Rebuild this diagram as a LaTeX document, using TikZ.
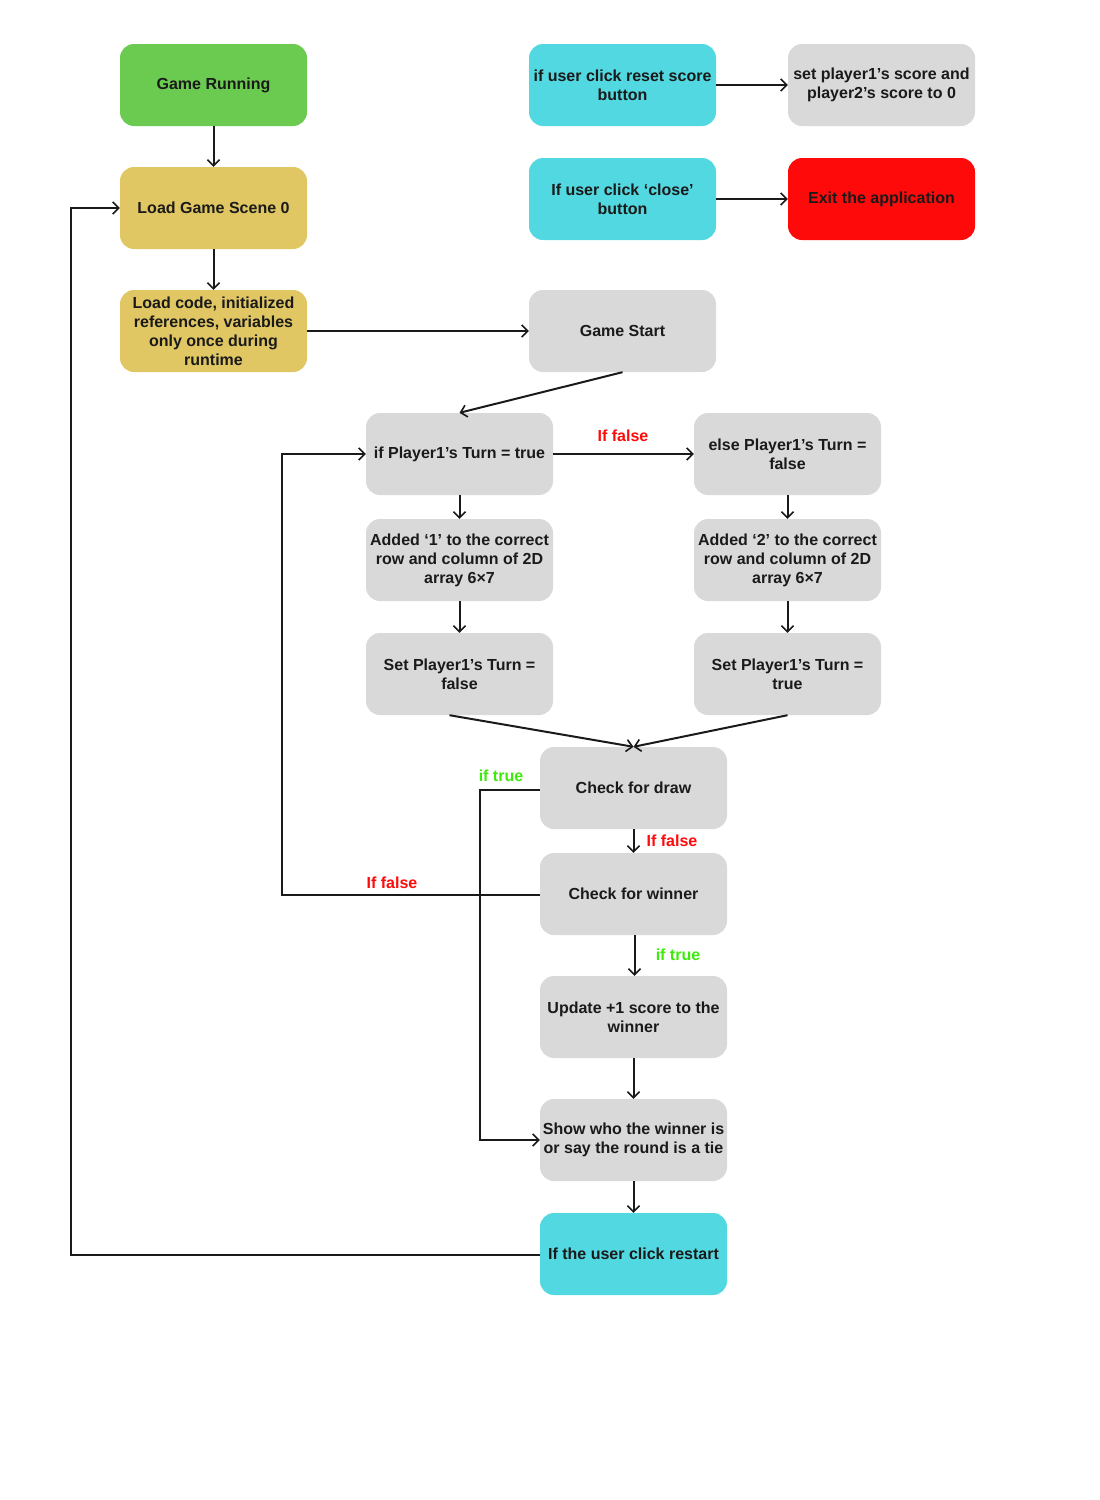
\documentclass[tikz,border=0pt]{standalone}
\usepackage{fontspec}
\setmainfont{Liberation Sans}
\usetikzlibrary{arrows.meta}
\definecolor{cgreen}{HTML}{6BCB50}
\definecolor{cyel}{HTML}{E0C763}
\definecolor{ccyan}{HTML}{52D8E0}
\definecolor{cgray}{HTML}{D9D9D9}
\definecolor{cred}{HTML}{FF0A0A}
\definecolor{ctext}{HTML}{1A1A1A}
\definecolor{lblred}{HTML}{FF0A0A}
\definecolor{lblgreen}{HTML}{3CEB0A}
\begin{document}
\begin{tikzpicture}[x=1pt,y=-1pt,
 box/.style={rounded corners=14pt, minimum width=187pt, minimum height=82pt, inner sep=0pt, align=center, text=ctext, font=\fontsize{16}{19}\selectfont\bfseries},
 arr/.style={-{Straight Barb[length=6pt,width=12pt,line width=1.6pt]}, line width=2pt, draw=ctext},
 thinarr/.style={-{Straight Barb[length=6pt,width=12pt,line width=1.6pt]}, line width=1.2pt, draw=ctext},
 lblr/.style={font=\fontsize{16}{19}\selectfont\bfseries, text=lblred, inner sep=0pt},
 lblg/.style={font=\fontsize{16}{19}\selectfont\bfseries, text=lblgreen, inner sep=0pt}]
\useasboundingbox[fill=white] (0,0) rectangle (1100,1500);

\node[box, fill=cgreen] (run) at (213.5,85) {Game Running};
\node[box, fill=cyel] (scene) at (213.5,208) {Load Game Scene 0};
\node[box, fill=cyel] (code) at (213.5,331) {Load code, initialized\\references, variables\\only once during\\runtime};
\node[box, fill=ccyan] (reset) at (622.5,85) {if user click reset score\\button};
\node[box, fill=cgray] (zero) at (881.5,85) {set player1’s score and\\player2’s score to 0};
\node[box, fill=ccyan] (close) at (622.5,199) {If user click ‘close’\\button};
\node[box, fill=cred] (exit) at (881.5,199) {Exit the application};
\node[box, fill=cgray] (start) at (622.5,331) {Game Start};
\node[box, fill=cgray] (p1) at (459.5,454) {if Player1’s Turn = true};
\node[box, fill=cgray] (p2) at (787.5,454) {else Player1’s Turn =\\false};
\node[box, fill=cgray] (add1) at (459.5,560) {Added ‘1’ to the correct\\row and column of 2D\\array 6×7};
\node[box, fill=cgray] (add2) at (787.5,560) {Added ‘2’ to the correct\\row and column of 2D\\array 6×7};
\node[box, fill=cgray] (setf) at (459.5,674) {Set Player1’s Turn =\\false};
\node[box, fill=cgray] (sett) at (787.5,674) {Set Player1’s Turn =\\true};
\node[box, fill=cgray] (draw) at (633.5,788) {Check for draw};
\node[box, fill=cgray] (win) at (633.5,894) {Check for winner};
\node[box, fill=cgray] (upd) at (633.5,1017) {Update +1 score to the\\winner};
\node[box, fill=cgray] (show) at (633.5,1140) {Show who the winner is\\or say the round is a tie};
\node[box, fill=ccyan] (restart) at (633.5,1254) {If the user click restart};

\coordinate (c1) at (480,790);
\coordinate (c2) at (480,1140);
\coordinate (c3) at (282,895);
\coordinate (c4) at (282,454);
\coordinate (c5) at (71,1255);
\coordinate (c6) at (71,208);

\draw[arr] (run.south) -- (scene.north);
\draw[arr] (scene.south) -- (code.north);
\draw[arr] (code.east) -- (start.west);
\draw[arr] (reset.east) -- (zero.west);
\draw[arr] (close.east) -- (exit.west);
\draw[arr] (start.south) -- (p1.north);
\draw[arr] (p1.east) -- (p2.west);
\draw[arr] (p1.south) -- (add1.north);
\draw[arr] (add1.south) -- (setf.north);
\draw[arr] (p2.south) -- (add2.north);
\draw[arr] (add2.south) -- (sett.north);
\draw[arr] ([xshift=-10pt]setf.south) -- (draw.north);
\draw[arr] (sett.south) -- (draw.north);
\draw[arr] (draw.south) -- (win.north);
\draw[arr] ([xshift=1pt]win.south) -- ([xshift=1pt]upd.north);
\draw[arr] (upd.south) -- (show.north);
\draw[arr] (show.south) -- (restart.north);

\draw[thinarr] (draw.west |- c1) -- (c1) -- (c2) -- (show.west);
\draw[thinarr] (win.west |- c3) -- (c3) -- (c4) -- (p1.west);
\draw[thinarr] (restart.west |- c5) -- (c5) -- (c6) -- (scene.west);

\node[lblr] (lf1) at (623,436) {If false};
\node[lblr] (lf2) at (672,841) {If false};
\node[lblr] (lf3) at (392,883) {If false};
\node[lblg] (lt1) at (501,776) {if true};
\node[lblg] (lt2) at (678,955) {if true};
\end{tikzpicture}
\end{document}
